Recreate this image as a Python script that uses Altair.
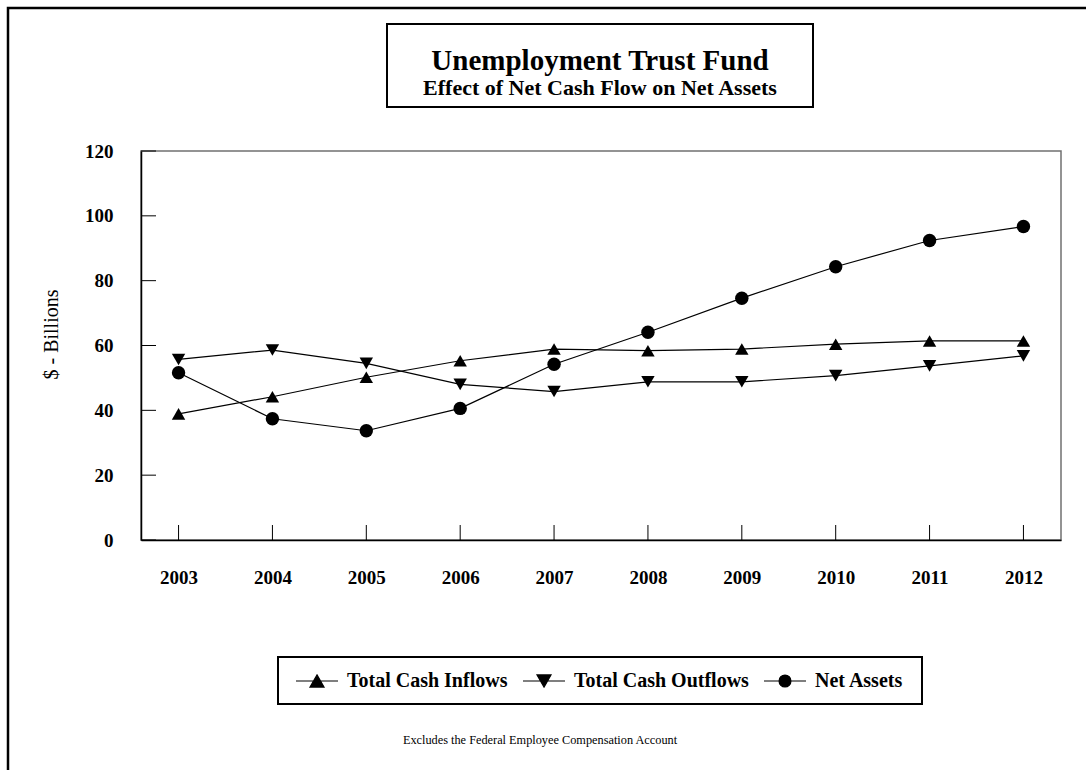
import altair as alt
import pandas as pd

years = ["2003", "2004", "2005", "2006", "2007", "2008", "2009", "2010", "2011", "2012"]
inflows = [38.9, 44.2, 50.2, 55.3, 58.9, 58.4, 58.9, 60.4, 61.4, 61.4]
outflows = [55.7, 58.6, 54.5, 48.0, 45.8, 48.8, 48.8, 50.7, 53.7, 56.8]
net_assets = [51.6, 37.4, 33.7, 40.6, 54.2, 64.1, 74.6, 84.3, 92.4, 96.7]
series_names = ["Total Cash Inflows", "Total Cash Outflows", "Net Assets"]
y_ticks = [0, 20, 40, 60, 80, 100, 120]

rows = []
for name, vals in zip(series_names, [inflows, outflows, net_assets]):
    for yr, v in zip(years, vals):
        rows.append({"series": name, "year": yr, "value": v})
df = pd.DataFrame(rows)

W, H = 920, 389
FONT = "Liberation Serif"

x_enc = alt.X("year:O", scale=alt.Scale(type="point", padding=0.4, domain=years),
              axis=alt.Axis(title=None, labelFont=FONT, labelFontWeight="bold", labelFontSize=19,
                            labelColor="black", labelAngle=0, labelAlign="center", tickSize=0,
                            labelPadding=37, domainColor="black", domainWidth=1.5, grid=False))
y_enc = alt.Y("value:Q", scale=alt.Scale(domain=[0, 120], nice=False),
              axis=alt.Axis(title="$ - Billions", values=y_ticks, labelFont=FONT, labelFontWeight="bold",
                            labelFontSize=19, labelColor="black", tickSize=0, labelPadding=28,
                            domainColor="black", domainWidth=1.5, grid=False,
                            titleFont=FONT, titleFontWeight="normal", titleFontSize=20, titleColor="black",
                            titleAngle=270, titleX=-84, titleY=183, titleAlign="center",
                            titleBaseline="alphabetic"))

one = alt.Data(values=[{"a": 1}])

outer = alt.Chart(one).mark_rect(fill=None, stroke="black", strokeWidth=2.5).encode(
    x=alt.value(-133), x2=alt.value(960), y=alt.value(-143), y2=alt.value(640))
title_box = alt.Chart(one).mark_rect(fill="white", stroke="black", strokeWidth=2).encode(
    x=alt.value(246), x2=alt.value(672), y=alt.value(-127), y2=alt.value(-44))
legend_box = alt.Chart(one).mark_rect(fill="white", stroke="black", strokeWidth=2).encode(
    x=alt.value(137), x2=alt.value(781), y=alt.value(506), y2=alt.value(553))
title1 = alt.Chart(one).mark_text(text="Unemployment Trust Fund", font=FONT, fontWeight="bold",
                                  fontSize=29, color="black", align="center", baseline="alphabetic").encode(
    x=alt.value(459), y=alt.value(-81))
title2 = alt.Chart(one).mark_text(text="Effect of Net Cash Flow on Net Assets", font=FONT, fontWeight="bold",
                                  fontSize=22, color="black", align="center", baseline="alphabetic").encode(
    x=alt.value(459), y=alt.value(-56))
foot = alt.Chart(one).mark_text(text="Excludes the Federal Employee Compensation Account", font=FONT,
                                fontSize=12.3, color="black", align="center", baseline="alphabetic").encode(
    x=alt.value(399), y=alt.value(593))

base = alt.Chart(df)
lines = base.mark_line(color="black", strokeWidth=1.2).encode(x=x_enc, y=y_enc, detail="series:N")
points = base.mark_point(filled=True, color="black", size=180, opacity=1).encode(
    x=x_enc, y=y_enc,
    shape=alt.Shape("series:N", scale=alt.Scale(domain=series_names,
                                                range=["triangle-up", "triangle-down", "circle"]),
                    legend=None))

legend_paths = [
    "M-3,0L3,0M0,-0.87L1,0.87L-1,0.87Z",
    "M-3,0L3,0M0,0.87L1,-0.87L-1,-0.87Z",
    "M-3,0L3,0M-0.85,0A0.85,0.85 0 1,0 0.85,0A0.85,0.85 0 1,0 -0.85,0Z",
]
legend_layer = base.mark_point(filled=False, fill="black", stroke="black", strokeWidth=1.2, opacity=0).encode(
    x=x_enc, y=y_enc,
    shape=alt.Shape("series:N", scale=alt.Scale(domain=series_names, range=legend_paths),
                    legend=alt.Legend(title=None, orient="none", direction="horizontal",
                                      legendX=166, legendY=520, symbolSize=196, symbolOpacity=1,
                                      symbolStrokeWidth=1.2, labelFont=FONT, labelFontWeight="bold",
                                      labelFontSize=20, labelColor="black", labelOffset=20,
                                      columnPadding=12, labelLimit=400, padding=0)))

xt = alt.Chart(alt.Data(values=[{"year": y} for y in years])).mark_rule(color="black", strokeWidth=1).encode(
    x=alt.X("year:O", scale=alt.Scale(type="point", padding=0.4, domain=years)),
    y=alt.value(H), y2=alt.value(H - 15))
yt = alt.Chart(alt.Data(values=[{"value": v} for v in y_ticks])).mark_rule(color="black", strokeWidth=1).encode(
    y=alt.Y("value:Q", scale=alt.Scale(domain=[0, 120], nice=False)),
    x=alt.value(0), x2=alt.value(15))

chart = alt.layer(outer, title_box, legend_box, title1, title2, foot, xt, yt, lines, points, legend_layer).resolve_scale(
    shape="independent"
).properties(
    width=W, height=H,
    autosize=alt.AutoSizeParams(type="none"),
    padding={"left": 141, "top": 151, "right": 25, "bottom": 230},
    background="white",
).configure_view(stroke="#707070", strokeWidth=1.5)

chart.save("out.html", embed_options={"renderer": "svg", "actions": False})
